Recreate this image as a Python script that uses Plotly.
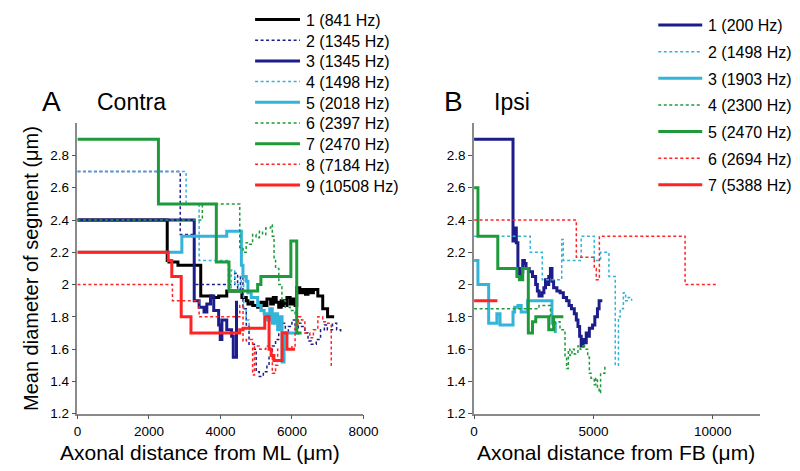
import plotly.graph_objects as go

W, H = 800, 471

# ---------------- Panel A (Contra) data ----------------
contra_names = ["1 (841 Hz)", "2 (1345 Hz)", "3 (1345 Hz)", "4 (1498 Hz)", "5 (2018 Hz)",
                "6 (2397 Hz)", "7 (2470 Hz)", "8 (7184 Hz)", "9 (10508 Hz)"]

c1_x = [0, 2512, 2560, 2812, 3449, 3767, 3950, 4177, 4600, 4723, 4769, 4860, 4905, 5041, 5132, 5223,
        5300, 5405, 5480, 5560, 5630, 5700, 5780, 5860, 5950, 6020, 6088, 6134, 6220, 6300, 6380,
        6450, 6530, 6600, 6724, 6861, 6997, 7180]
c1_y = [2.40, 2.15, 2.14, 2.12, 1.93, 1.92, 1.93, 1.96, 1.92, 1.90, 1.88, 1.89, 1.87, 1.86, 1.89, 1.87,
        1.91, 1.88, 1.92, 1.89, 1.86, 1.90, 1.87, 1.92, 1.88, 1.91, 1.87, 1.98, 1.95, 1.97, 1.94,
        1.97, 1.95, 1.97, 1.93, 1.85, 1.80, 1.80]

c2_x = [0, 2876, 3267, 4400, 4480, 4560, 4630, 4723, 4800, 4951, 5000, 5087, 5200, 5300, 5360,
        5451, 5542, 5630, 5724, 5815, 5900, 6000, 6088, 6179, 6270, 6361, 6450, 6540, 6680, 6800,
        6907, 6990, 7134, 7250, 7362]
c2_y = [2.70, 2.31, 2.00, 2.07, 1.97, 2.05, 1.85, 1.75, 1.63, 1.60, 1.46, 1.43, 1.46, 1.50, 1.55,
        1.62, 1.66, 1.72, 1.76, 1.70, 1.74, 1.78, 1.72, 1.76, 1.74, 1.70, 1.65, 1.63, 1.66, 1.72,
        1.75, 1.72, 1.76, 1.72, 1.70]

c3_x = [0, 3267, 3404, 3541, 3620, 3722, 3813, 3950, 3995, 4041, 4177, 4313, 4359, 4450]
c3_y = [2.40, 1.90, 1.86, 1.83, 1.88, 1.93, 1.84, 1.75, 1.66, 1.78, 1.72, 1.68, 1.55, 1.90]

c4_x = [0, 3040, 3404, 4223, 4300, 4400, 4500, 4580, 4650, 4720, 4800, 4900]
c4_y = [2.70, 2.50, 2.15, 1.98, 2.09, 2.00, 1.95, 2.05, 1.85, 1.78, 1.72, 1.72]

c5_x = [0, 2921, 4177, 4586, 4630, 4723, 4769, 4860, 5041, 5132, 5223, 5300, 5380, 5450, 5530,
        5600, 5680, 5724, 5780, 6200]
c5_y = [2.20, 2.30, 2.33, 2.12, 2.05, 2.02, 1.95, 1.92, 1.87, 1.84, 1.82, 1.78, 1.85, 1.76, 1.82,
        1.72, 1.80, 1.52, 1.70, 1.70]

c6_x = [0, 3494, 4541, 4632, 4720, 4814, 4900, 4996, 5090, 5178, 5269, 5405, 5451, 5500, 5542,
        5633, 5720, 5815, 5950, 6088, 6179, 6250]
c6_y = [2.40, 2.50, 2.23, 2.20, 2.26, 2.25, 2.31, 2.29, 2.33, 2.31, 2.35, 2.37, 2.30, 2.15, 2.10,
        2.00, 1.90, 1.86, 1.84, 1.80, 1.76, 1.76]

c7_x = [0, 2266, 3885, 4240, 5041, 5132, 5970, 6134, 6270]
c7_y = [2.90, 2.50, 2.14, 1.96, 2.00, 2.05, 2.27, 1.70, 1.70]

c8_x = [0, 2657, 3404, 4541, 4632, 4723, 4900, 4951, 5100, 5269, 5405, 5451, 5542, 5600, 5800,
        6000, 6088, 6179, 6270, 6361, 6500, 6600, 6724, 6861, 6997, 7100, 7134]
c8_y = [2.00, 1.90, 1.80, 1.87, 1.65, 1.66, 1.44, 1.62, 1.60, 1.62, 1.55, 1.45, 1.50, 1.60, 1.60,
        1.62, 1.75, 1.80, 1.78, 1.70, 1.67, 1.72, 1.80, 1.77, 1.76, 1.50, 1.50]

c9_x = [0, 2540, 2640, 2903, 3176, 4541, 4632, 5240, 5360, 5420, 5496, 5724, 5860, 6088]
c9_y = [2.20, 2.15, 2.05, 1.80, 1.70, 1.72, 1.73, 1.80, 1.60, 1.56, 1.53, 1.70, 1.60, 1.60]

# ---------------- Panel B (Ipsi) data ----------------
ipsi_names = ["1 (200 Hz)", "2 (1498 Hz)", "3 (1903 Hz)", "4 (2300 Hz)", "5 (2470 Hz)",
              "6 (2694 Hz)", "7 (5388 Hz)"]

i1_x = [0, 1632, 1701, 1770, 1837, 1900, 1970, 2040, 2110, 2177, 2310, 2448, 2580, 2652, 2721,
        2850, 2925, 2994, 3060, 3130, 3199, 3265, 3333, 3470, 3606, 3740, 3876, 3980, 4080, 4200,
        4284, 4353, 4423, 4488, 4560, 4627, 4700, 4761, 4830, 4965, 5060, 5169, 5239, 5373]
i1_y = [2.90, 2.27, 2.35, 2.26, 2.10, 2.05, 2.08, 2.15, 2.13, 2.10, 2.08, 2.05, 2.00, 1.96, 1.93,
        1.95, 1.98, 2.03, 2.00, 2.05, 2.10, 2.02, 1.98, 1.96, 1.95, 1.92, 1.90, 1.87, 1.85, 1.82,
        1.78, 1.74, 1.68, 1.62, 1.66, 1.64, 1.70, 1.68, 1.73, 1.75, 1.80, 1.85, 1.90, 1.90]

i2_x = [0, 2355, 2857, 3673, 3740, 4488, 5035, 5300, 5650, 5916, 6050, 6120, 6256, 6350, 6460, 6600]
i2_y = [2.30, 2.20, 2.03, 2.28, 2.15, 2.30, 2.15, 2.20, 2.05, 1.50, 1.80, 1.85, 1.95, 1.90, 1.92, 1.90]

i3_x = [0, 163, 612, 955, 1089, 1632, 1700, 1840, 1975, 2244, 3264, 3403]
i3_y = [2.15, 2.00, 1.76, 1.82, 1.75, 1.83, 1.86, 1.87, 1.83, 1.90, 1.76, 1.70]

i4_x = [0, 2721, 3199, 3300, 3403, 3600, 3811, 3876, 3950, 4015, 4100, 4200, 4353, 4450, 4560,
        4627, 4761, 4831, 4900, 5035, 5100, 5169, 5239, 5300, 5480]
i4_y = [1.85, 1.87, 1.80, 1.75, 1.77, 1.72, 1.55, 1.48, 1.60, 1.56, 1.60, 1.57, 1.62, 1.60, 1.63,
        1.60, 1.55, 1.45, 1.42, 1.38, 1.42, 1.36, 1.33, 1.45, 1.50]

i5_x = [0, 163, 994, 1795, 1900, 2040, 2273, 2448, 2585, 3129, 3333, 3741]
i5_y = [2.60, 2.30, 2.10, 2.05, 2.03, 2.10, 1.70, 1.77, 1.80, 1.72, 1.80, 1.80]

i6_x = [0, 4284, 5035, 5120, 5250, 8841, 10135]
i6_y = [2.40, 2.17, 2.10, 2.03, 2.30, 2.00, 2.00]

i7_x = [0, 979]
i7_y = [1.90, 1.90]

y_ticks = [1.2, 1.4, 1.6, 1.8, 2.0, 2.2, 2.4, 2.6, 2.8]
y_ticktext = ["1.2", "1.4", "1.6", "1.8", "2", "2.2", "2.4", "2.6", "2.8"]
xa_ticks = [0, 2000, 4000, 6000, 8000]
xa_ticktext = ["0", "2000", "4000", "6000", "8000"]
xb_ticks = [0, 5000, 10000]
xb_ticktext = ["0", "5000", "10000"]

# ---------------- styles ----------------
BLACK = "#000000"
NAVY = "#1c1c8a"
CYAN = "#33b4d8"
GREEN = "#1f9a3a"
RED = "#ff2424"
SOLID = dict(width=3, dash="solid")
DASH = dict(width=1.5, dash="3px,2.5px")

contra_series = [
    (c1_x, c1_y, BLACK, SOLID), (c2_x, c2_y, NAVY, DASH), (c3_x, c3_y, NAVY, SOLID),
    (c4_x, c4_y, CYAN, DASH), (c5_x, c5_y, CYAN, SOLID), (c6_x, c6_y, GREEN, DASH),
    (c7_x, c7_y, GREEN, SOLID), (c8_x, c8_y, RED, DASH), (c9_x, c9_y, RED, SOLID),
]
ipsi_series = [
    (i1_x, i1_y, NAVY, SOLID), (i2_x, i2_y, CYAN, DASH), (i3_x, i3_y, CYAN, SOLID),
    (i4_x, i4_y, GREEN, DASH), (i5_x, i5_y, GREEN, SOLID), (i6_x, i6_y, RED, DASH),
    (i7_x, i7_y, RED, SOLID),
]

FONT = "Liberation Sans, Arial, sans-serif"

fig = go.Figure()
for (xs, ys, col, st), name in zip(contra_series, contra_names):
    fig.add_trace(go.Scatter(x=xs, y=ys, mode="lines", name=name, line_shape="hv",
                             line=dict(color=col, width=st["width"], dash=st["dash"]),
                             xaxis="x", yaxis="y", showlegend=False))
for (xs, ys, col, st), name in zip(ipsi_series, ipsi_names):
    fig.add_trace(go.Scatter(x=xs, y=ys, mode="lines", name=name, line_shape="hv",
                             line=dict(color=col, width=st["width"], dash=st["dash"]),
                             xaxis="x2", yaxis="y2", showlegend=False))


def px(x):
    return x / W


def py(y):
    return 1 - y / H


axis_common = dict(showline=True, linecolor="#8a8a8a", linewidth=1.5, ticks="outside",
                   ticklen=4, tickcolor="#555", tickwidth=1, showgrid=False, zeroline=False,
                   tickfont=dict(family=FONT, size=13.5, color="#000"))

ydom = [py(412.7), py(117.2)]
fig.update_layout(
    width=W, height=H, margin=dict(l=0, r=0, t=0, b=0),
    paper_bgcolor="white", plot_bgcolor="white", showlegend=False,
    xaxis=dict(domain=[px(67), px(360)], range=[0, 8000], tickvals=xa_ticks,
               ticktext=xa_ticktext, anchor="y", **axis_common),
    yaxis=dict(domain=ydom, range=[1.2, 3.0], tickvals=y_ticks, ticktext=y_ticktext,
               anchor="x", **axis_common),
    xaxis2=dict(domain=[px(473.3), px(766.7)], range=[0, 12000], tickvals=xb_ticks,
                ticktext=xb_ticktext, anchor="y2", **axis_common),
    yaxis2=dict(domain=ydom, range=[1.2, 3.0], tickvals=y_ticks, ticktext=y_ticktext,
                anchor="x2", **axis_common),
)

ann = []
def text(x, y, s, size, **kw):
    ann.append(dict(x=px(x), y=py(y), xref="paper", yref="paper", text=s, showarrow=False,
                    font=dict(family=FONT, size=size, color="#000"), **kw))

text(40, 95, "A", 28, xanchor="center", yanchor="middle")
text(122, 96, "Contra", 23, xanchor="center", yanchor="middle")
text(452, 95, "B", 28, xanchor="center", yanchor="middle")
text(512, 96, "Ipsi", 23, xanchor="center", yanchor="middle")
text(193, 452, "Axonal distance from ML (μm)", 21, xanchor="center", yanchor="middle")
text(619, 452, "Axonal distance from FB (μm)", 21, xanchor="center", yanchor="middle")
text(20, 265, "Mean diameter of segment (μm)", 20, xanchor="center", yanchor="middle",
     textangle=-90)

shapes = []
def legend(series, names, x0, x1, xt, y0, dy):
    for i, ((xs, ys, col, st), name) in enumerate(zip(series, names)):
        yy = y0 + i * dy
        shapes.append(dict(type="line", xref="paper", yref="paper", x0=px(x0), x1=px(x1),
                           y0=py(yy), y1=py(yy),
                           line=dict(color=col, width=st["width"], dash=st["dash"])))
        text(xt, yy + 1, name, 16, xanchor="left", yanchor="middle")

legend(contra_series, contra_names, 249, 295, 299, 11.7, 21.05)
legend(ipsi_series, ipsi_names, 662, 707, 711, 17.3, 27.1)

fig.update_layout(annotations=ann, shapes=shapes)
fig.write_html("out.html")
